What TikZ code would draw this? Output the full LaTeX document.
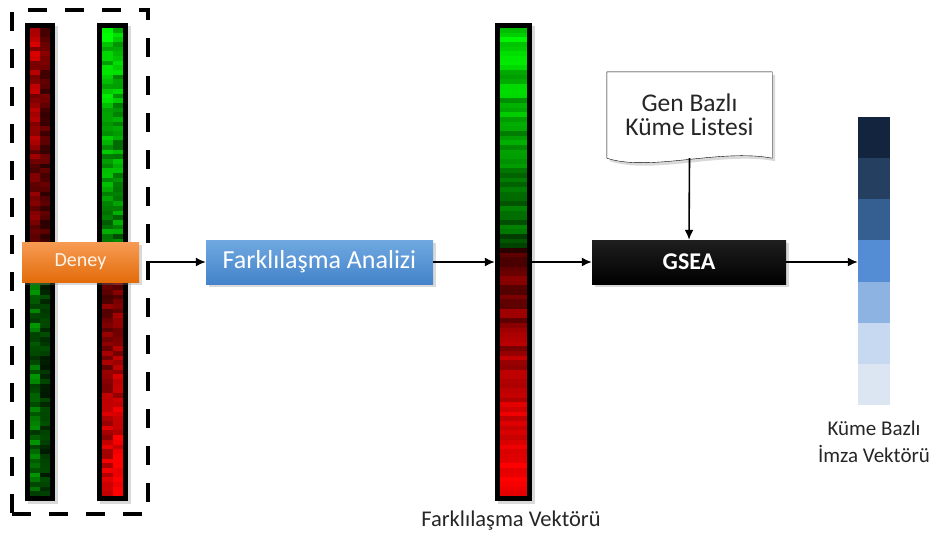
\documentclass[tikz,border=0pt]{standalone}
\usepackage{fontspec}
\setmainfont{Carlito}
\usetikzlibrary{arrows.meta,shadows}

\definecolor{deneytop}{HTML}{F79B54}
\definecolor{deneybot}{HTML}{E36C0A}
\definecolor{analiztop}{HTML}{70A9E1}
\definecolor{analizbot}{HTML}{4483CA}
\definecolor{labelgray}{HTML}{262626}
\definecolor{ivec1}{HTML}{13243F}
\definecolor{ivec2}{HTML}{243F60}
\definecolor{ivec3}{HTML}{365F91}
\definecolor{ivec4}{HTML}{548DD4}
\definecolor{ivec5}{HTML}{8DB3E2}
\definecolor{ivec6}{HTML}{C6D9F1}
\definecolor{ivec7}{HTML}{DCE6F2}

% one column of heat map cells: x-left, x-right, first row, last row, colour, level
\newcommand{\heatrows}[6]{%
  \foreach \r in {#3,...,#4}{
    \pgfmathsetmacro\lev{int(max(4,min(100,#6)))}
    \fill[#5!\lev!black] (#1,28+\r*4.68) rectangle (#2,28+\r*4.68+4.9);
  }}

\tikzset{
  softshadow/.style={drop shadow={opacity=0.3,shadow xshift=3pt,shadow yshift=-3pt}},
  strip/.style={fill=black,inner sep=0pt,minimum width=#1,minimum height=478pt,softshadow},
  process/.style={inner sep=0pt,minimum height=44pt,text=white,softshadow},
  flow/.style={-{Latex[length=10pt,width=9pt]},line width=1.6pt},
}

\begin{document}
\begin{tikzpicture}[x=1pt,y=-1pt]
  \useasboundingbox (0,0) rectangle (939,535);
  \pgfmathsetseed{12}

  % experiment: two samples
  \node[draw,line width=4pt,dash pattern=on 19pt off 18pt,minimum width=136pt,
        minimum height=503pt] (expbox) at (80,262) {};
  \node[strip=30pt] (sample1) at (40,262) {};
  \node[strip=31pt] (sample2) at (112.5,262) {};
  \heatrows{30}{40}{0}{49}{red}{72-\r*0.8+40*(rnd-0.5)}
  \heatrows{40}{50}{0}{49}{red}{42-\r*0.4+30*(rnd-0.5)}
  \heatrows{30}{40}{50}{99}{green}{40+40*(rnd-0.5)}
  \heatrows{40}{50}{50}{99}{green}{20+24*(rnd-0.5)}
  \heatrows{102}{112.5}{0}{49}{green}{85-\r*0.8+40*(rnd-0.5)}
  \heatrows{112.5}{123}{0}{49}{green}{75-\r*0.6+40*(rnd-0.5)}
  \heatrows{102}{112.5}{50}{99}{red}{30+(\r-50)*1.2+40*(rnd-0.5)}
  \heatrows{112.5}{123}{50}{99}{red}{42+(\r-50)*1.2+40*(rnd-0.5)}
  \node[process,minimum width=117pt,minimum height=40pt,top color=deneytop,
        bottom color=deneybot,text=orange!8,font=\fontsize{20}{24}\selectfont] (deney) at (80.5,262) {Deney};

  % differential analysis
  \node[process,minimum width=227pt,top color=analiztop,bottom color=analizbot,
        font=\fontsize{26}{30}\selectfont] (analiz) at (319.5,262) {Farklılaşma Analizi};

  % difference vector
  \node[strip=37pt] (fvec) at (513.5,262) {};
  \heatrows{500}{527}{0}{46}{green}{88-\r*1.2+30*(rnd-0.5)}
  \heatrows{500}{527}{47}{99}{red}{32+(\r-47)*1.35+30*(rnd-0.5)}
  \node[text=labelgray,font=\fontsize{22.5}{26}\selectfont] (fvecl) at (511,521) {Farklılaşma Vektörü};

  % gene set list
  \node[inner sep=0pt,minimum width=165pt,minimum height=86pt] (genlist) at (689.5,115) {};
  \draw[thin,fill=white,softshadow] (genlist.south west) -- (genlist.north west) -- (genlist.north east)
        -- (genlist.south east) .. controls +(-52,-10) and +(43,14) .. (genlist.south west) -- cycle;
  \node[align=center,font=\fontsize{25.5}{24}\selectfont,text=labelgray] at (genlist) {Gen Bazlı\\Küme Listesi};

  \node[process,minimum width=194pt,top color=black!88,bottom color=black,
        font=\fontsize{24}{28}\selectfont\bfseries] (gsea) at (689,262) {GSEA};

  % set based signature vector
  \node[inner sep=0pt,minimum width=32pt,minimum height=288pt] (ivec) at (874,261) {};
  \foreach \i in {1,...,7}
    \fill[ivec\i] (858,117+\i*41.14-41.14) rectangle (890,117+\i*41.14+0.3);
  \node[align=center,text=labelgray,font=\fontsize{21}{27}\selectfont] (ivecl) at (874,442) {Küme Bazlı\\İmza Vektörü};

  \draw[flow] (expbox.east) -- (analiz.west);
  \draw[flow] (analiz.east) -- (fvec.west);
  \draw[flow] (fvec.east) -- (gsea.west);
  \draw[flow] (genlist.south) -- (gsea.north);
  \draw[flow] (gsea.east) -- (gsea.east -| ivec.west);
\end{tikzpicture}
\end{document}
